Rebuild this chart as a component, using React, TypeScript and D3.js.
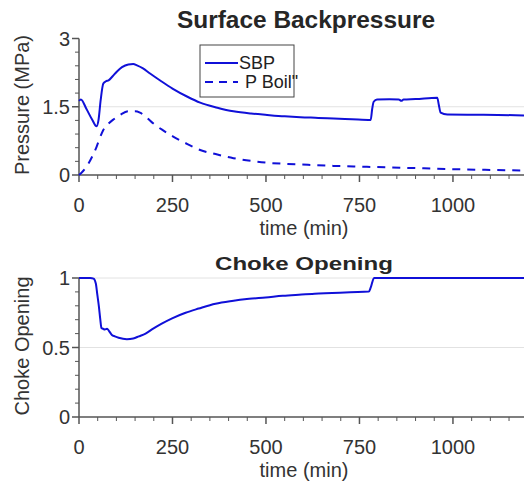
import React, { useEffect, useRef } from 'react';
import * as d3 from 'd3';

// time (min) / value pairs
const sbpTime = [0, 5, 20, 35, 47, 52, 58, 65, 72, 79, 90, 101, 115, 132, 145, 155, 170, 190, 220, 250, 290, 324, 370, 413, 460, 503, 550, 592, 640, 681, 730, 780, 784, 788, 797, 830, 855, 862, 868, 900, 958, 962, 967, 985, 1050, 1120, 1190];
const sbpValues = [1.63, 1.66, 1.45, 1.22, 1.07, 1.2, 1.65, 2.01, 2.06, 2.08, 2.17, 2.27, 2.37, 2.43, 2.44, 2.41, 2.35, 2.23, 2.06, 1.9, 1.72, 1.59, 1.48, 1.4, 1.35, 1.32, 1.29, 1.27, 1.255, 1.24, 1.225, 1.21, 1.45, 1.61, 1.66, 1.665, 1.66, 1.63, 1.66, 1.67, 1.7, 1.55, 1.37, 1.33, 1.325, 1.32, 1.31];

const boilTime = [0, 8, 20, 35, 47, 56, 65, 78, 92, 110, 132, 150, 163, 180, 199, 225, 253, 290, 324, 370, 413, 460, 503, 550, 592, 681, 770, 860, 950, 1038, 1110, 1190];
const boilValues = [0.0, 0.06, 0.18, 0.4, 0.62, 0.82, 0.99, 1.12, 1.22, 1.32, 1.4, 1.4, 1.37, 1.27, 1.13, 0.98, 0.84, 0.68, 0.55, 0.45, 0.37, 0.31, 0.27, 0.245, 0.23, 0.2, 0.18, 0.16, 0.14, 0.12, 0.11, 0.1];

const chokeTime = [0, 30, 39, 45, 49, 53, 57, 60, 64, 69, 75, 80, 88, 96, 106, 128, 145, 160, 178, 195, 220, 249, 285, 320, 365, 409, 455, 499, 545, 588, 630, 677, 725, 775, 780, 789, 800, 900, 1000, 1100, 1190];
const chokeValues = [1.0, 1.0, 0.995, 0.96, 0.88, 0.8, 0.7, 0.64, 0.635, 0.63, 0.635, 0.62, 0.59, 0.58, 0.57, 0.56, 0.565, 0.58, 0.6, 0.63, 0.67, 0.71, 0.75, 0.78, 0.815, 0.835, 0.85, 0.86, 0.872, 0.88, 0.887, 0.892, 0.898, 0.902, 0.93, 1.0, 1.0, 1.0, 1.0, 1.0, 1.0];

const xMajor = [0, 250, 500, 750, 1000];
const topMajor = [0, 1.5, 3];
const bottomMajor = [0, 0.5, 1];

const W = 524;
const H = 484;
const FONT = '"Liberation Sans", Arial, sans-serif';
const BLUE = '#1010d8';
const AXIS = '#555';

const App = () => {
  const ref = useRef<HTMLDivElement>(null);

  useEffect(() => {
    d3.select(ref.current).select('svg').remove();

    const svg = d3.select(ref.current)
      .append('svg')
      .attr('width', W)
      .attr('height', H)
      .style('display', 'block')
      .style('font-family', FONT);

    const x = d3.scaleLinear().domain([0, 1190]).range([79, 524]);
    const xMinor = d3.range(0, 1200, 50).filter(v => v % 250 !== 0);

    const drawPanel = (opts) => {
      const { y, major, minor, gridAt, title, titleSize, titleLen, yLabel, labelX, labelY, tickY, titleX } = opts;
      const g = svg.append('g');
      const [y0, y1] = y.range();

      // faint grid
      g.selectAll('line.grid')
        .data(gridAt)
        .enter()
        .append('line')
        .attr('x1', x(0)).attr('x2', W)
        .attr('y1', d => y(d)).attr('y2', d => y(d))
        .attr('stroke', '#e2e2e2')
        .attr('stroke-width', 1);

      // y axis
      g.append('line')
        .attr('x1', x(0)).attr('x2', x(0))
        .attr('y1', y0).attr('y2', y1)
        .attr('stroke', AXIS).attr('stroke-width', 1.5);
      g.selectAll('line.ymaj')
        .data(major).enter().append('line')
        .attr('x1', x(0) - 7).attr('x2', x(0))
        .attr('y1', d => y(d)).attr('y2', d => y(d))
        .attr('stroke', AXIS).attr('stroke-width', 1.5);
      g.selectAll('line.ymin')
        .data(minor).enter().append('line')
        .attr('x1', x(0) - 4).attr('x2', x(0))
        .attr('y1', d => y(d)).attr('y2', d => y(d))
        .attr('stroke', AXIS).attr('stroke-width', 1);
      g.selectAll('text.ytick')
        .data(major).enter().append('text')
        .attr('x', 70)
        .attr('y', d => y(d) + 7)
        .attr('text-anchor', 'end')
        .style('font-size', '20px')
        .style('fill', '#333')
        .text(d => String(d));

      // x axis
      g.append('line')
        .attr('x1', x(0)).attr('x2', W)
        .attr('y1', y0).attr('y2', y0)
        .attr('stroke', AXIS).attr('stroke-width', 1.5);
      g.selectAll('line.xmaj')
        .data(xMajor).enter().append('line')
        .attr('x1', d => x(d)).attr('x2', d => x(d))
        .attr('y1', y0).attr('y2', y0 + 7)
        .attr('stroke', AXIS).attr('stroke-width', 1.5);
      g.selectAll('line.xmin')
        .data(xMinor).enter().append('line')
        .attr('x1', d => x(d)).attr('x2', d => x(d))
        .attr('y1', y0).attr('y2', y0 + 4)
        .attr('stroke', AXIS).attr('stroke-width', 1);
      g.selectAll('text.xtick')
        .data(xMajor).enter().append('text')
        .attr('x', d => x(d))
        .attr('y', tickY)
        .attr('text-anchor', 'middle')
        .style('font-size', '20px')
        .style('fill', '#333')
        .text(d => String(d));

      g.append('text')
        .attr('x', 304)
        .attr('y', tickY + 23)
        .attr('text-anchor', 'middle')
        .style('font-size', '20px')
        .style('fill', '#333')
        .text('time (min)');

      g.append('text')
        .attr('transform', `translate(${labelX},${labelY}) rotate(-90)`)
        .attr('text-anchor', 'middle')
        .style('font-size', '20px')
        .style('fill', '#333')
        .text(yLabel);

      g.append('text')
        .attr('x', titleX - titleLen / 2)
        .attr('y', opts.titleY)
        .attr('textLength', titleLen)
        .attr('lengthAdjust', 'spacingAndGlyphs')
        .style('font-size', titleSize)
        .style('font-weight', 'bold')
        .style('fill', '#262626')
        .text(title);

      return g;
    };

    // ---- top panel
    const yTop = d3.scaleLinear().domain([0, 3]).range([175, 38.5]);
    const top = drawPanel({
      y: yTop,
      major: topMajor,
      minor: [0.3, 0.6, 0.9, 1.2, 1.8, 2.1, 2.4, 2.7],
      gridAt: [1.5],
      title: 'Surface Backpressure',
      titleSize: '23px',
      titleLen: 258,
      titleX: 306,
      titleY: 28,
      yLabel: 'Pressure (MPa)',
      labelX: 29,
      labelY: 105,
      tickY: 212,
    });

    const lineTop = d3.line<number>()
      .x(d => x(d[0]))
      .y(d => yTop(d[1]));

    top.append('path')
      .datum(sbpTime.map((t, i) => [t, sbpValues[i]]))
      .attr('d', lineTop.curve(d3.curveMonotoneX))
      .attr('fill', 'none')
      .attr('stroke', BLUE)
      .attr('stroke-width', 2);

    top.append('path')
      .datum(boilTime.map((t, i) => [t, boilValues[i]]))
      .attr('d', lineTop.curve(d3.curveMonotoneX))
      .attr('fill', 'none')
      .attr('stroke', BLUE)
      .attr('stroke-width', 2)
      .attr('stroke-dasharray', '8,7');

    // legend
    const leg = top.append('g');
    leg.append('rect')
      .attr('x', 200).attr('y', 45)
      .attr('width', 94).attr('height', 52)
      .attr('fill', 'white')
      .attr('stroke', '#444')
      .attr('stroke-width', 1);
    leg.append('line')
      .attr('x1', 205).attr('x2', 238)
      .attr('y1', 63).attr('y2', 63)
      .attr('stroke', BLUE).attr('stroke-width', 2);
    leg.append('line')
      .attr('x1', 205).attr('x2', 238)
      .attr('y1', 82).attr('y2', 82)
      .attr('stroke', BLUE).attr('stroke-width', 2)
      .attr('stroke-dasharray', '8,6');
    leg.append('text')
      .attr('x', 239).attr('y', 69)
      .style('font-size', '18px').style('fill', '#222')
      .text('SBP');
    leg.append('text')
      .attr('x', 245).attr('y', 88)
      .style('font-size', '18px').style('fill', '#222')
      .text('P Boil"');

    // ---- bottom panel
    const yBot = d3.scaleLinear().domain([0, 1]).range([417, 278]);
    const bot = drawPanel({
      y: yBot,
      major: bottomMajor,
      minor: [0.1, 0.2, 0.3, 0.4, 0.6, 0.7, 0.8, 0.9],
      gridAt: [0.5, 1],
      title: 'Choke Opening',
      titleSize: '19px',
      titleLen: 178,
      titleX: 304,
      titleY: 270,
      yLabel: 'Choke Opening',
      labelX: 29,
      labelY: 346,
      tickY: 454,
    });

    bot.append('path')
      .datum(chokeTime.map((t, i) => [t, chokeValues[i]]))
      .attr('d', d3.line<number>().x(d => x(d[0])).y(d => yBot(d[1])).curve(d3.curveMonotoneX))
      .attr('fill', 'none')
      .attr('stroke', BLUE)
      .attr('stroke-width', 2);
  }, []);

  return <div ref={ref} style={{ position: 'absolute', left: 0, top: 0 }}></div>;
};

export default App;
